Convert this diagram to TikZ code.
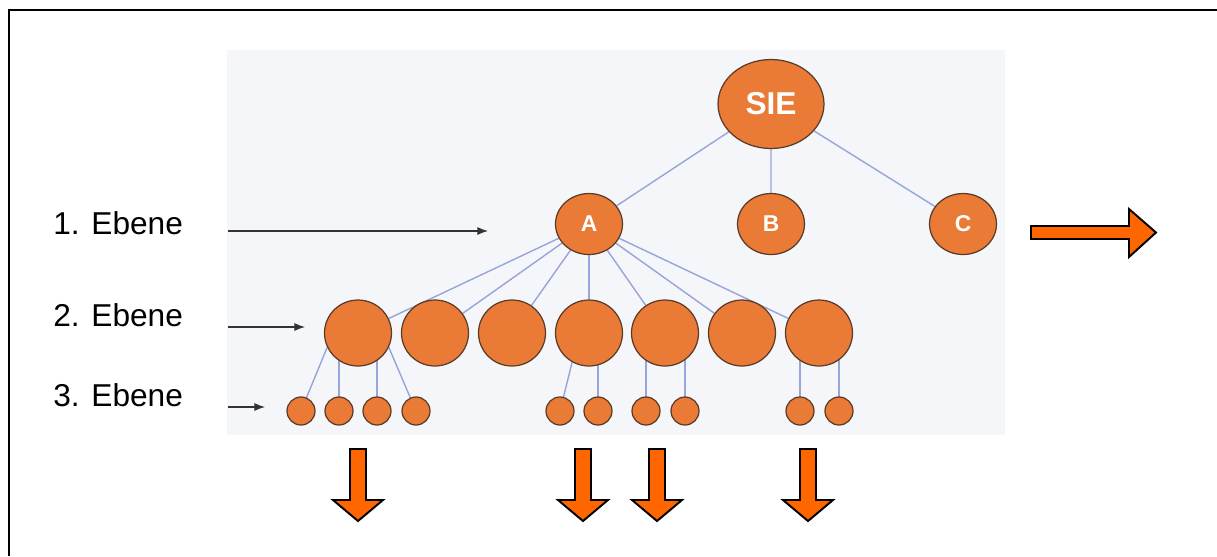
\documentclass[tikz,border=0pt]{standalone}
\usepackage{fontspec}
\setmainfont{Liberation Sans}
\usetikzlibrary{backgrounds,arrows.meta,shapes.geometric}
\definecolor{orgfill}{HTML}{E97B36}
\definecolor{orgline}{HTML}{5B3A26}
\definecolor{edgeblue}{HTML}{97A5D8}
\definecolor{photobg}{HTML}{F4F6FA}
\definecolor{bigorange}{HTML}{FF6600}
\tikzset{
  knot/.style={ellipse,draw=orgline,fill=orgfill,line width=0.7pt,inner sep=0pt,text=white},
  siebox/.style={knot,minimum width=2.12cm,minimum height=1.78cm,font=\fontsize{18}{18}\selectfont\bfseries},
  topbox/.style={knot,minimum width=1.34cm,minimum height=1.22cm,font=\fontsize{13}{13}\selectfont\bfseries},
  midbox/.style={knot,minimum width=1.34cm,minimum height=1.32cm},
  leafbox/.style={knot,minimum width=0.56cm,minimum height=0.56cm},
  edge/.style={draw=edgeblue,line width=0.8pt},
  levelarrow/.style={draw=black!80,line width=0.6pt,-{Latex[length=6pt,width=4.5pt]}},
  levellabel/.style={anchor=west,inner sep=0pt,font=\fontsize{18}{20}\selectfont},
  bigarrow/.style={fill=bigorange,draw=black,line width=1.1pt,line join=miter}
}
\begin{document}
\begin{tikzpicture}[x=0.02cm,y=-0.02cm]
  \useasboundingbox (0,0) rectangle (1217,556);
  % frame
  \draw[line width=1.2pt] (9,556) -- (9,10) -- (1217,10);
  % tree
  \node[siebox] (sie) at (771,104) {SIE};
  \node[topbox] (a) at (589,224) {A};
  \node[topbox] (b) at (771,224) {B};
  \node[topbox] (c) at (963,224) {C};
  \foreach \x [count=\i] in {358,435,512,589,665,742,819}
    \node[midbox] (m\i) at (\x,333) {};
  \foreach \x [count=\i] in {301,339,377,416,560,598,646,685,800,839}
    \node[leafbox] (s\i) at (\x,411) {};
  \begin{scope}[on background layer]
    \fill[photobg] (227,50) rectangle (1005,435);
    \draw[edge] (sie) -- (a) (sie) -- (b) (sie) -- (c);
    \foreach \i in {1,...,7}
      \draw[edge] (a) -- (m\i);
    \draw[edge] (m1.205) -- (s1.center);
    \draw[edge] (m1.-25) -- (s4.center);
    \draw[edge] (m4.240) -- (s5.center);
    \foreach \i/\m in {2/1,3/1,6/4,7/5,8/5,9/7,10/7}
      \draw[edge] (s\i.center) -- (s\i.center |- m\m.center);
  \end{scope}
  % levels
  \node[levellabel] (l1) at (53,223) {1. Ebene};
  \node[levellabel] (l2) at (53,315) {2. Ebene};
  \node[levellabel] (l3) at (53,395) {3. Ebene};
  \coordinate (e1) at (228,231);
  \coordinate (e2) at (228,327);
  \coordinate (e3) at (228,407);
  \draw[levelarrow] (e1) -- ++(260,0);
  \draw[levelarrow] (e2) -- ++(77,0);
  \draw[levelarrow] (e3) -- ++(37,0);
  % big arrows
  \draw[bigarrow] (1031,226) -- (1129,226) -- (1129,209) -- (1156,232.5)
    -- (1129,257) -- (1129,239) -- (1031,239) -- cycle;
  \foreach \x in {358,583,657,808}
    \draw[bigarrow] (\x-8,449) -- (\x+8,449) -- (\x+8,500) -- (\x+25,500)
      -- (\x,521) -- (\x-25,500) -- (\x-8,500) -- cycle;
\end{tikzpicture}
\end{document}
